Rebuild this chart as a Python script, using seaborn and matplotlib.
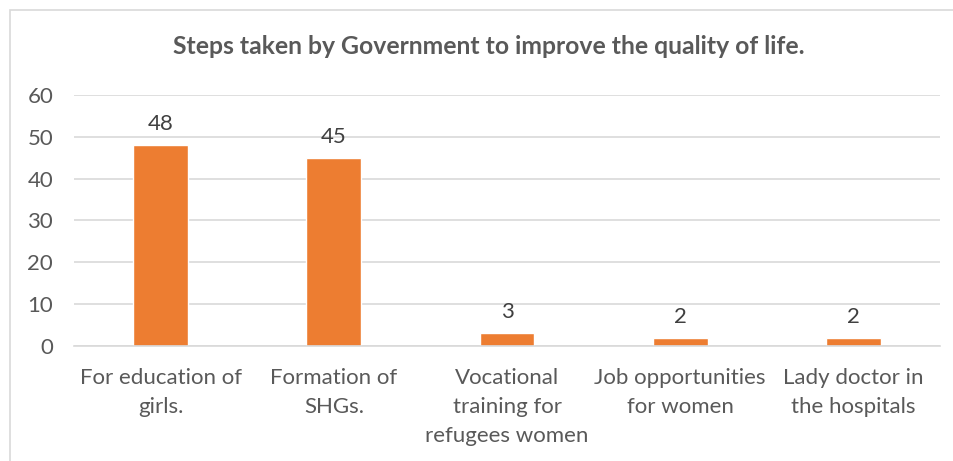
import matplotlib
matplotlib.use("Agg")
import matplotlib.pyplot as plt
import seaborn as sns
import pandas as pd
from matplotlib.patches import Rectangle

# Chart data
steps = ["For education of\ngirls.", "Formation of\nSHGs.",
         "Vocational\ntraining for\nrefugees women",
         "Job opportunities\nfor women", "Lady doctor in\nthe hospitals"]
counts = [48, 45, 3, 2, 2]
y_ticks = [0, 10, 20, 30, 40, 50, 60]

title = "Steps taken by Government to improve the quality of life."
bar_color = "#ED7D31"
text_color = "#595959"
grid_color = "#D9D9D9"

df = pd.DataFrame({"step": steps, "count": counts})

sns.set_style("white")
plt.rcParams["font.family"] = ["Lato", "DejaVu Sans"]

fig = plt.figure(figsize=(9.54, 4.61), dpi=100)
ax = fig.add_axes([0.0776, 0.2495, 0.9077, 0.5445])

sns.barplot(data=df, x="step", y="count", color=bar_color, width=0.317,
            saturation=1, ax=ax)

ax.set_ylim(0, 60)
ax.set_yticks(y_ticks)
ax.yaxis.grid(True, color=grid_color, linewidth=1.2)
ax.set_axisbelow(True)
for side in ["left", "right", "top"]:
    ax.spines[side].set_visible(False)
ax.spines["bottom"].set_color(grid_color)
ax.spines["bottom"].set_linewidth(1.2)
ax.tick_params(axis="both", length=0, colors=text_color, labelsize=16)
ax.tick_params(axis="y", pad=15)
ax.tick_params(axis="x", pad=16)
for lbl in ax.get_xticklabels():
    lbl.set_linespacing(1.55)
ax.set_xlabel("")
ax.set_ylabel("")

for cont in ax.containers:
    ax.bar_label(cont, padding=8, fontsize=16, color="#404040")

fig.text(0.5126, 0.900, title, ha="center", va="center", fontsize=17.8,
         fontweight="bold", color=text_color)

# chart frame
fig.patches.append(Rectangle((10 / 954, -0.1), 1.2, 1.1 - 10 / 461,
                             transform=fig.transFigure, fill=False,
                             edgecolor=grid_color, linewidth=1.2))

fig.savefig("out.png", dpi=100, facecolor="white")
